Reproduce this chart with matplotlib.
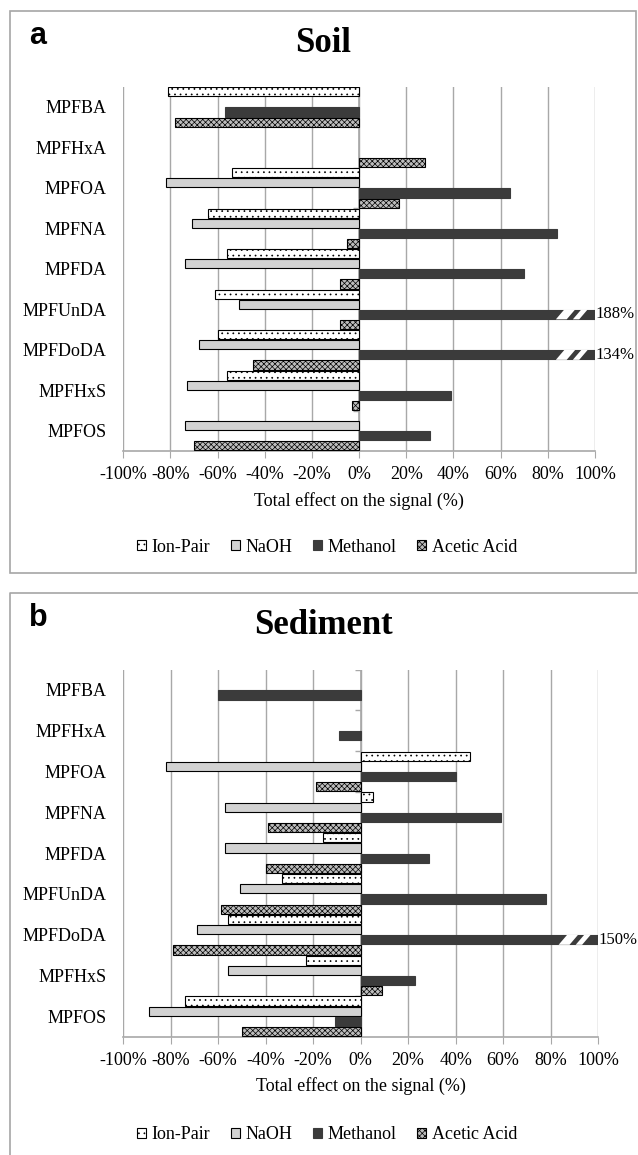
import numpy as np
import matplotlib.pyplot as plt
from matplotlib.patches import Rectangle, Patch, Polygon
from matplotlib.lines import Line2D

# ---- data (% total effect on the signal, 0 = no bar) ----
compounds = ["MPFBA", "MPFHxA", "MPFOA", "MPFNA", "MPFDA", "MPFUnDA", "MPFDoDA", "MPFHxS", "MPFOS"]
treatments = ["Ion-Pair", "NaOH", "Methanol", "Acetic Acid"]

soil_ion_pair = [-81, 0, -54, -64, -56, -61, -60, -56, 0]
soil_naoh = [0, 0, -82, -71, -74, -51, -68, -73, -74]
soil_methanol = [-57, 0, 64, 84, 70, 188, 134, 39, 30]
soil_acetic = [-78, 28, 17, -5, -8, -8, -45, -3, -70]

sed_ion_pair = [0, 0, 46, 5, -16, -33, -56, -23, -74]
sed_naoh = [0, 0, -82, -57, -57, -51, -69, -56, -89]
sed_methanol = [-60, -9, 40, 59, 29, 78, 150, 23, -11]
sed_acetic = [0, 0, -19, -39, -40, -59, -79, 9, -50]

x_ticks = list(range(-100, 101, 20))

W, H = 638, 1155
plt.rcParams['hatch.linewidth'] = 0.5
SERIF = ['Liberation Serif', 'DejaVu Serif']
FS = 13

styles = [
    dict(facecolor='white', edgecolor='black', hatch='...', linewidth=0.8),
    dict(facecolor='#d2d2d2', edgecolor='black', linewidth=0.8),
    dict(facecolor='#3b3b3b', edgecolor='#3b3b3b', linewidth=0.8),
    dict(facecolor='#bdbdbd', edgecolor='black', hatch='xxxxxx', linewidth=0.8),
]
GRID = '#a8a8a8'


def fx(x):
    return x / W


def fy(y):
    return 1 - y / H


def draw_panel(fig, frame_top, top, bottom, left, right, series, letter, title, frame, legend_dy):
    ax = fig.add_axes([fx(left), fy(bottom), fx(right - left), (bottom - top) / H])
    n = len(compounds)
    ypos = np.arange(n)
    slot = 0.25
    offsets = [-1.5 * slot, -0.5 * slot, 0.5 * slot, 1.5 * slot]
    bar_h = slot * 0.9

    for vals, off, st in zip(series, offsets, styles):
        vals = np.array(vals, dtype=float)
        keep = vals != 0
        shown = np.minimum(vals, 100)
        ax.barh(ypos[keep] + off, shown[keep], height=bar_h, zorder=3, **st)
        # broken bars for values beyond the axis
        for yi, v in zip(ypos[keep], vals[keep]):
            if v > 100:
                yc = yi + off
                h = bar_h / 2 + 0.01
                s = 3.6
                for x0, x1 in [(83.4, 88.0), (90.6, 93.3)]:
                    poly = Polygon([(x0, yc + h), (x1, yc + h), (x1 + s, yc - h), (x0 + s, yc - h)],
                                   closed=True, facecolor='white', edgecolor='none', zorder=4)
                    ax.add_patch(poly)
                ax.text(100.3, yc, f"{v:.0f}%", ha='left', va='center', fontsize=12,
                        family=SERIF, zorder=5, clip_on=False)

    # zero line + category marks
    ax.axvline(0, color=GRID, linewidth=1.2, zorder=2)
    ax.hlines(np.arange(-0.5, n), -2.5, 0, colors=GRID, linewidth=1, zorder=2)

    ax.set_xlim(-100, 100)
    ax.set_ylim(n - 0.5, -0.5)
    ax.set_xticks(x_ticks)
    ax.set_xticklabels([f"{t}%" for t in x_ticks], family=SERIF, fontsize=FS)
    ax.set_yticks(ypos)
    ax.set_yticklabels(compounds, family=SERIF, fontsize=FS)
    ax.tick_params(axis='y', length=0, pad=12)
    ax.tick_params(axis='x', length=5, color=GRID, pad=6)
    ax.xaxis.grid(True, color=GRID, linewidth=1, zorder=0)
    ax.set_axisbelow(True)
    for side in ['top', 'right', 'left']:
        ax.spines[side].set_visible(False)
    ax.spines['bottom'].set_color(GRID)
    ax.spines['bottom'].set_linewidth(1.2)
    ax.set_xlabel("Total effect on the signal (%)", family=SERIF, fontsize=FS, labelpad=6)

    fig.text(fx(29), fy(frame_top + 25), letter, family=['Liberation Sans', 'DejaVu Sans'],
             fontweight='bold', fontsize=22, ha='left', va='center')
    fig.text(fx(323), fy(frame_top + 33), title, family=SERIF, fontweight='bold', fontsize=25,
             ha='center', va='center')

    handles = [Patch(label=lab, **st) for lab, st in zip(treatments, styles)]
    fig.legend(handles=handles, loc='center', bbox_to_anchor=(fx(327), fy(bottom + legend_dy)),
               ncol=4, frameon=False, prop=dict(family=SERIF, size=FS),
               handlelength=0.5, handleheight=0.5, handletextpad=0.3, columnspacing=1.15)

    fig.add_artist(frame)
    return ax


fig = plt.figure(figsize=(W / 100, H / 100), dpi=100)

frame_a = Rectangle((fx(9.5), fy(572.5)), fx(626.5), 561.5 / H, transform=fig.transFigure,
                    fill=False, edgecolor='#a6a6a6', linewidth=1.2)
draw_panel(fig, 11, 86.7, 451, 123.3, 595,
           [soil_ion_pair, soil_naoh, soil_methanol, soil_acetic], 'a', 'Soil', frame_a, 96)

frame_b = Line2D([fx(9.5), fx(9.5), fx(640)], [fy(1160), fy(593), fy(593)], transform=fig.transFigure,
                 color='#a6a6a6', linewidth=1.2)
draw_panel(fig, 593, 669.5, 1036.7, 123.3, 598,
           [sed_ion_pair, sed_naoh, sed_methanol, sed_acetic], 'b', 'Sediment', frame_b, 98)

fig.savefig("out.png", dpi=100)
